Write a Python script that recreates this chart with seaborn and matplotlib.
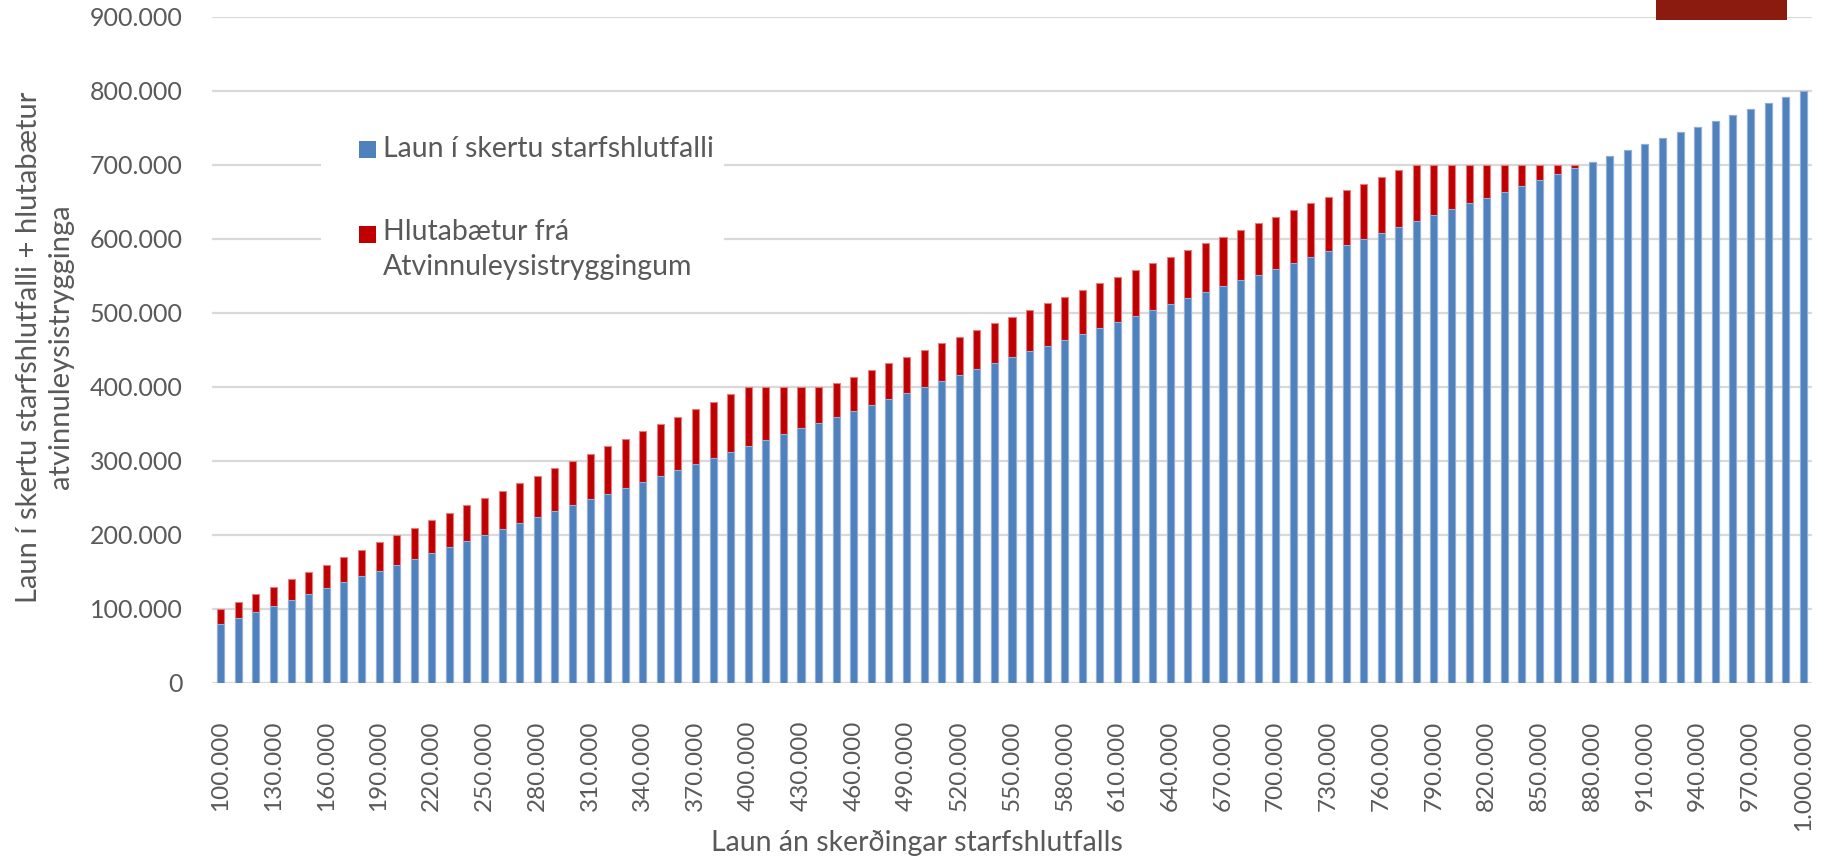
import matplotlib
matplotlib.use("Agg")
import matplotlib.pyplot as plt
import seaborn as sns
import pandas as pd
from matplotlib.patches import Rectangle

# ---------------- data ----------------
salary = list(range(100000, 1000001, 10000))  # categories: Laun án skerðingar
salary_labels = [f"{s:,}".replace(",", ".") for s in salary]

blue_vals = [
    80000, 88000, 96000, 104000, 112000, 120000, 128000, 136000, 144000, 152000,
    160000, 168000, 176000, 184000, 192000, 200000, 208000, 216000, 224000, 232000,
    240000, 248000, 256000, 264000, 272000, 280000, 288000, 296000, 304000, 312000,
    320000, 328000, 336000, 344000, 352000, 360000, 368000, 376000, 384000, 392000,
    400000, 408000, 416000, 424000, 432000, 440000, 448000, 456000, 464000, 472000,
    480000, 488000, 496000, 504000, 512000, 520000, 528000, 536000, 544000, 552000,
    560000, 568000, 576000, 584000, 592000, 600000, 608000, 616000, 624000, 632000,
    640000, 648000, 656000, 664000, 672000, 680000, 688000, 696000, 704000, 712000,
    720000, 728000, 736000, 744000, 752000, 760000, 768000, 776000, 784000, 792000,
    800000,
]
red_vals = [
    20000, 22000, 24000, 26000, 28000, 30000, 32000, 34000, 36000, 38000,
    40000, 42000, 44000, 46000, 48000, 50000, 52000, 54000, 56000, 58000,
    60000, 62000, 64000, 66000, 68000, 70000, 72000, 74000, 76000, 78000,
    80000, 72000, 64000, 56000, 48000, 45000, 46000, 47000, 48000, 49000,
    50000, 51000, 52000, 53000, 54000, 55000, 56000, 57000, 58000, 59000,
    60000, 61000, 62000, 63000, 64000, 65000, 66000, 67000, 68000, 69000,
    70000, 71000, 72000, 73000, 74000, 75000, 76000, 77000, 76000, 68000,
    60000, 52000, 44000, 36000, 28000, 20000, 12000, 4000, 0, 0,
    0, 0, 0, 0, 0, 0, 0, 0, 0, 0,
    0,
]
yticks = [0, 100000, 200000, 300000, 400000, 500000, 600000, 700000, 800000, 900000]
legend_labels = ["Laun í skertu starfshlutfalli", "Hlutabætur frá\nAtvinnuleysistryggingum"]

df = pd.DataFrame({"laun": salary_labels, "blue": blue_vals, "red": red_vals})
df["total"] = df["blue"] + df["red"]

BLUE = "#4F81BD"
RED = "#C00000"
GRID = "#D9D9D9"
TXT = "#595959"

sns.set_theme(style="white")
plt.rcParams["font.family"] = ["Lato", "DejaVu Sans"]

W, H = 1827, 859
fig = plt.figure(figsize=(W / 100, H / 100), dpi=100)
fig.patch.set_facecolor("white")

ax = fig.add_axes([212 / W, 1 - 683 / H, (1812 - 212) / W, (683 - 17) / H])
ax.set_facecolor("none")

sns.barplot(data=df, x="laun", y="total", order=salary_labels, color=RED,
            saturation=1, width=0.4, ax=ax, linewidth=0.8, edgecolor="#E08080", zorder=3)
sns.barplot(data=df, x="laun", y="blue", order=salary_labels, color=BLUE,
            saturation=1, width=0.4, ax=ax, linewidth=0.8, edgecolor="#8FB0D8", zorder=4)

ax.set_ylim(0, 900000)
ax.set_xlim(-0.5, len(salary_labels) - 0.5)
ax.set_yticks(yticks)
ax.set_yticklabels([f"{v:,}".replace(",", ".") for v in yticks])
xt = list(range(0, len(salary_labels), 3))
ax.set_xticks(xt)
ax.set_xticklabels([salary_labels[i] for i in xt], rotation=90, va="top", ha="center")
ax.tick_params(axis="y", length=0, pad=21, labelsize=18, labelcolor=TXT)
ax.tick_params(axis="x", length=0, pad=27, labelsize=17.5, labelcolor=TXT)

for v in yticks:
    ax.axhline(v, color=GRID, lw=1.6, zorder=1)
for s in ax.spines.values():
    s.set_visible(False)

ax.set_xlabel("")
ax.set_ylabel("")
fig.text(917 / W, 1 - 851 / H, "Laun án skerðingar starfshlutfalls", ha="center",
         va="baseline", fontsize=20.5, color=TXT)
fig.text(45 / W, 1 - 347 / H,
         "Laun í skertu starfshlutfalli + hlutabætur\natvinnuleysistrygginga",
         ha="center", va="center", rotation=90, fontsize=21, color=TXT,
         linespacing=1.25, multialignment="center")

# legend box (manual, matching the Excel layout)
fig.patches.append(Rectangle((321 / W, 1 - 293 / H), (724 - 321) / W, (293 - 126) / H,
                             transform=fig.transFigure, facecolor="white",
                             edgecolor="none", zorder=5))
fig.patches.append(Rectangle((359 / W, 1 - 158 / H), 17 / W, 17 / H,
                             transform=fig.transFigure, facecolor=BLUE,
                             edgecolor="none", zorder=6))
fig.patches.append(Rectangle((359 / W, 1 - 243 / H), 17 / W, 17 / H,
                             transform=fig.transFigure, facecolor=RED,
                             edgecolor="none", zorder=6))
fig.text(383 / W, 1 - 157 / H, legend_labels[0], ha="left", va="baseline",
         fontsize=20.5, color=TXT, zorder=7)
for i, line in enumerate(legend_labels[1].split("\n")):
    fig.text(383 / W, 1 - (240 + 35 * i) / H, line, ha="left", va="baseline",
             fontsize=20.5, color=TXT, zorder=7)

# logo fragment at top right
fig.patches.append(Rectangle((1656 / W, 1 - 20 / H), (1787 - 1656) / W, 20 / H,
                             transform=fig.transFigure, facecolor="#8A1B0E",
                             edgecolor="none", zorder=5))

fig.savefig("out.png", dpi=100, facecolor="white")
